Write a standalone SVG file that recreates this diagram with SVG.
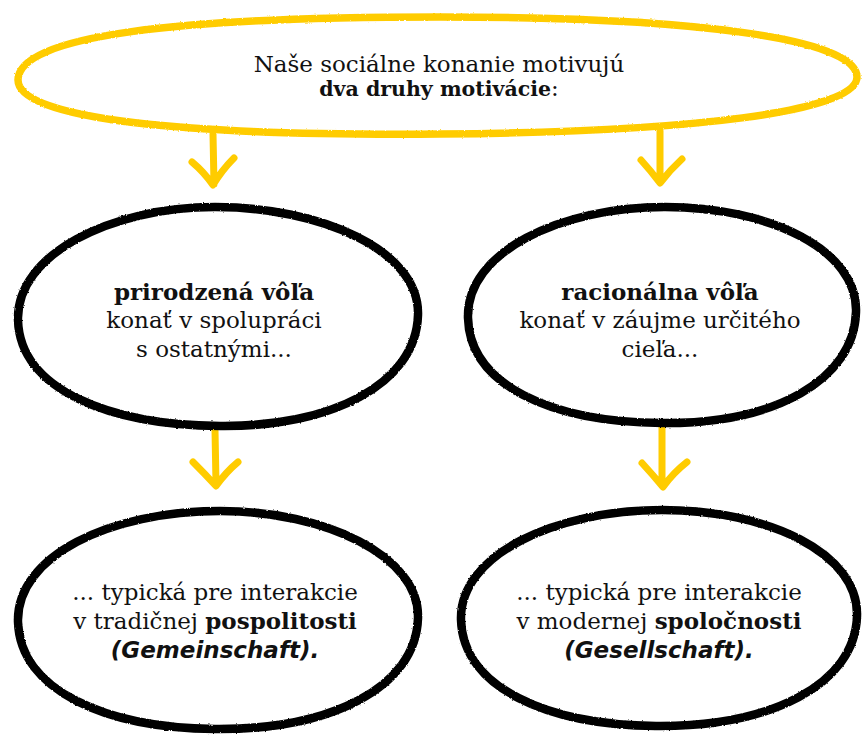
<svg xmlns="http://www.w3.org/2000/svg" width="862" height="735" viewBox="0 0 862 735">
<defs>
<style>
.bg{fill:#ffffff}
.yl{fill:none;stroke:#FFCC00;stroke-width:7.5;stroke-linecap:round;stroke-linejoin:round}
.bk{fill:none;stroke:#000000;stroke-width:8.5;stroke-linecap:round;stroke-linejoin:round}
.arw{fill:none;stroke:#FFCC00;stroke-width:7;stroke-linecap:round;stroke-linejoin:round}
text{font-family:"DejaVu Serif","Liberation Serif",serif;font-size:23px;fill:#111111;text-anchor:middle}
.b{font-weight:bold;font-size:23px}
.bt{font-weight:bold;font-size:20.5px}
.it{font-family:"DejaVu Sans","Liberation Sans",sans-serif;font-weight:bold;font-style:italic;font-size:23px}
</style>
<filter id="rough" x="-5%" y="-10%" width="110%" height="120%">
<feTurbulence type="fractalNoise" baseFrequency="0.6" numOctaves="1" seed="3" result="n"/>
<feDisplacementMap in="SourceGraphic" in2="n" scale="2.5" xChannelSelector="R" yChannelSelector="G"/>
</filter>
</defs>
<rect class="bg" x="0" y="0" width="862" height="735"/>

<g id="connectors">
<path class="arw" d="M213,134 L214,184 M192,162 Q204,172 213,185 Q222,170 234,158"/>
<path class="arw" d="M660,131 L660,182 M641,160 Q651,171 660,183 Q670,170 682,159"/>
<path class="arw" d="M215,430 L216,484 M193,462 Q205,474 216,486 Q226,472 238,462"/>
<path class="arw" d="M662,427 L662,484 M642,463 Q653,475 663,487 Q673,473 687,462"/>
</g>

<g id="node-top">
<path class="yl" filter="url(#rough)" d="M18,80 C18,35 180,17 440,17 C690,17 857,38 857,77 C857,112 690,132 440,134 C190,136 18,120 18,80 Z"/>
<text x="439" y="72">Naše sociálne konanie motivujú</text>
<text x="439" y="96"><tspan class="bt">dva druhy motivácie</tspan>:</text>
</g>

<g id="node-prirodzena">
<path class="bk" filter="url(#rough)" d="M18,320 C16,255 110,207 215,207 C320,207 420,250 418,315 C416,385 330,427 220,426 C110,425 20,390 18,320 Z"/>
<text x="214" y="300" class="b">prirodzená vôľa</text>
<text x="214" y="328">konať v spolupráci</text>
<text x="214" y="357">s ostatnými...</text>
</g>

<g id="node-racionalna">
<path class="bk" filter="url(#rough)" d="M468,318 C466,252 560,207 665,207 C770,207 858,250 856,312 C854,380 775,424 662,423 C550,422 470,385 468,318 Z"/>
<text x="660" y="300" class="b">racionálna vôľa</text>
<text x="660" y="328">konať v záujme určitého</text>
<text x="660" y="357">cieľa...</text>
</g>

<g id="node-pospolitost">
<path class="bk" filter="url(#rough)" d="M18,622 C16,556 110,511 220,511 C325,511 420,556 418,618 C416,688 330,730 215,729 C105,728 20,690 18,622 Z"/>
<text x="215" y="600">... typická pre interakcie</text>
<text x="215" y="629">v tradičnej <tspan class="b">pospolitosti</tspan></text>
<text x="215" y="658" class="it">(Gemeinschaft).</text>
</g>

<g id="node-spolocnost">
<path class="bk" filter="url(#rough)" d="M461,620 C459,555 555,510 662,510 C768,510 859,553 857,616 C855,685 770,727 656,726 C548,725 463,688 461,620 Z"/>
<text x="659" y="600">... typická pre interakcie</text>
<text x="659" y="629">v modernej <tspan class="b">spoločnosti</tspan></text>
<text x="659" y="658" class="it">(Gesellschaft).</text>
</g>
</svg>
